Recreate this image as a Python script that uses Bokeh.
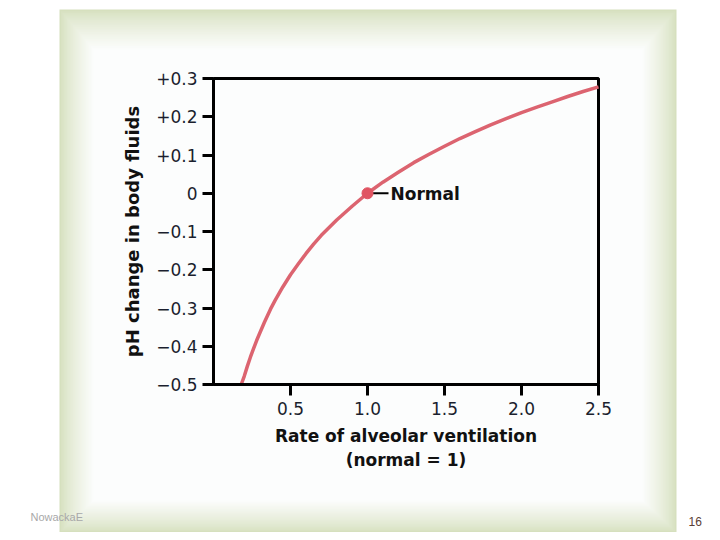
from bokeh.plotting import figure
from bokeh.models import Range1d, LinearAxis, FixedTicker, Label
from bokeh.embed import file_html
from bokeh.resources import INLINE
from bokeh.core.properties import value

# ---------------- data ----------------
ventilation = [0.18, 0.20, 0.22, 0.24, 0.26, 0.28, 0.30, 0.33, 0.37, 0.40, 0.45, 0.50,
               0.55, 0.60, 0.65, 0.70, 0.80, 0.90, 1.00, 1.10, 1.20, 1.30, 1.40, 1.50,
               1.60, 1.70, 1.80, 1.90, 2.00, 2.10, 2.20, 2.30, 2.40, 2.50]
ph_change = [-0.500, -0.478, -0.452, -0.428, -0.406, -0.385, -0.366, -0.338, -0.303,
             -0.280, -0.245, -0.213, -0.185, -0.158, -0.133, -0.110, -0.070, -0.034,
             0.000, 0.029, 0.055, 0.080, 0.102, 0.123, 0.143, 0.161, 0.179, 0.195,
             0.211, 0.225, 0.239, 0.253, 0.266, 0.278]
normal_x = [1.0]
normal_y = [0.0]
normal_text = ["Normal"]
x_ticks = [0.5, 1.0, 1.5, 2.0, 2.5]
x_tick_labels = ["0.5", "1.0", "1.5", "2.0", "2.5"]
y_ticks = [0.3, 0.2, 0.1, 0.0, -0.1, -0.2, -0.3, -0.4, -0.5]
y_tick_labels = ["+0.3", "+0.2", "+0.1", "0", "\u22120.1", "\u22120.2", "\u22120.3",
                 "\u22120.4", "\u22120.5"]
x_title = "Rate of alveolar ventilation\n(normal = 1)"
y_title = "pH change in body fluids"
footer_left = "NowackaE"
footer_right = "16"

# ---------------- layout ----------------
W, H = 712, 532
BOX_L, BOX_R, BOX_T, BOX_B = 213, 598, 78, 384   # plot box in canvas pixels
X_MIN, X_MAX = 0.0, 2.5
Y_MIN, Y_MAX = -0.5, 0.3
sx = (BOX_R - BOX_L) / (X_MAX - X_MIN)
sy = (BOX_B - BOX_T) / (Y_MAX - Y_MIN)

p = figure(width=W, height=H,
           x_range=Range1d(X_MIN - BOX_L / sx, X_MAX + (W - BOX_R) / sx),
           y_range=Range1d(Y_MIN - (H - BOX_B) / sy, Y_MAX + BOX_T / sy),
           x_axis_type=None, y_axis_type=None,
           output_backend="svg", toolbar_location=None, min_border=0)
p.outline_line_color = None
p.background_fill_color = "white"
p.border_fill_color = "white"
p.extra_x_ranges = {"px": Range1d(0, W)}
p.extra_y_ranges = {"px": Range1d(H, 0)}

# ---------------- slide frame with soft green gradient ----------------
FL, FR, FT, FB = 59, 676, 9, 532
edge = (214, 224, 190)
white = (252, 253, 253)
N = 24
for i in range(N):
    t = i / (N - 1)
    e = t ** 0.8
    c = tuple(int(round(edge[k] + (white[k] - edge[k]) * e)) for k in range(3))
    col = "#%02x%02x%02x" % c
    p.quad(left=FL + 34 * t, right=FR - 34 * t, top=FT + 40 * t, bottom=FB - 32 * t,
           fill_color=col, line_color=None, x_range_name="px", y_range_name="px")

# ---------------- axes ----------------
FONT = "DejaVu Sans"
TXT = "#1b1f2e"

yaxis = LinearAxis(fixed_location=X_MIN, bounds=(Y_MIN, Y_MAX),
                   ticker=FixedTicker(ticks=y_ticks),
                   major_label_overrides=dict(zip(y_ticks, y_tick_labels)))
xaxis = LinearAxis(fixed_location=Y_MIN, bounds=(X_MIN, X_MAX),
                   ticker=FixedTicker(ticks=x_ticks),
                   major_label_overrides=dict(zip(x_ticks, x_tick_labels)))
for ax, title in ((yaxis, y_title), (xaxis, x_title)):
    ax.axis_label = title
    ax.axis_line_width = 3
    ax.axis_line_color = "black"
    ax.major_tick_line_width = 3
    ax.major_tick_line_color = "black"
    ax.major_tick_out = 11
    ax.major_tick_in = 0
    ax.minor_tick_line_color = None
    ax.major_label_text_font = FONT
    ax.major_label_text_font_size = "17px"
    ax.major_label_text_color = TXT
    ax.axis_label_text_font = FONT
    ax.axis_label_text_font_style = "bold"
    ax.axis_label_text_font_size = "17px"
    ax.axis_label_text_color = "#111111"
yaxis.major_label_standoff = 5
yaxis.axis_label_standoff = 10
yaxis.axis_label_text_font_size = "18px"
xaxis.major_label_standoff = 6
xaxis.axis_label_standoff = 8
p.add_layout(yaxis, "left")
p.add_layout(xaxis, "below")

# top and right edges of the box
p.quad(left=X_MIN, right=X_MAX, bottom=Y_MIN, top=Y_MAX,
       fill_color=None, line_color="black", line_width=3)

# ---------------- data marks ----------------
p.line(ventilation, ph_change, line_color="#dc6470", line_width=3.5, line_join="round")
p.segment(x0=[normal_x[0] + 5 / sx], y0=normal_y, x1=[normal_x[0] + 21 / sx], y1=normal_y,
          line_color="black", line_width=2)
p.scatter(normal_x, normal_y, size=11, fill_color="#e05462", line_color="#e05462")
p.text(normal_x, normal_y, text=normal_text, x_offset=23, y_offset=1,
       text_font=value(FONT), text_font_style="bold", text_font_size="17px",
       text_color="#111111", text_baseline="middle", text_align="left")

# ---------------- footer ----------------
p.add_layout(Label(x=30, y=10, x_units="screen", y_units="screen", text=footer_left,
                   text_font="Liberation Sans", text_font_size="11px",
                   text_color="#a8a8a8", text_baseline="bottom"))
p.add_layout(Label(x=688, y=7, x_units="screen", y_units="screen", text=footer_right,
                   text_font="Liberation Sans", text_font_size="12px",
                   text_color="#5a4035", text_baseline="bottom"))

open("out.html", "w").write(file_html(p, INLINE))
